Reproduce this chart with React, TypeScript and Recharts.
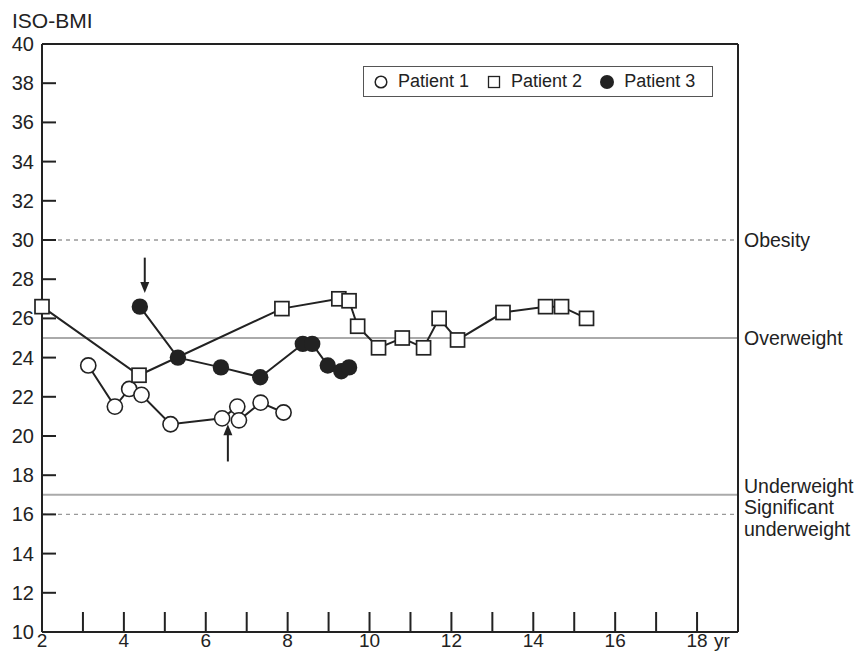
import React from 'react';
import {
  LineChart,
  Line,
  XAxis,
  YAxis,
  ReferenceLine,
  Legend
} from 'recharts';

// ages (yr) and ISO-BMI for each patient
const p1Age = [3.13, 3.78, 4.13, 4.43, 5.14, 6.4, 6.77, 6.81, 7.34, 7.9];
const p1Bmi = [23.6, 21.5, 22.4, 22.1, 20.6, 20.9, 21.5, 20.8, 21.7, 21.2];

const p2Age = [2.0, 4.37, 7.86, 9.25, 9.5, 9.71, 10.22, 10.8, 11.32, 11.7, 12.15, 13.26, 14.3, 14.69, 15.3];
const p2Bmi = [26.6, 23.1, 26.5, 27.0, 26.9, 25.6, 24.5, 25.0, 24.5, 26.0, 24.9, 26.3, 26.6, 26.6, 26.0];

const p3Age = [4.39, 5.32, 6.37, 7.33, 8.37, 8.6, 8.98, 9.31, 9.5];
const p3Bmi = [26.6, 24.0, 23.5, 23.0, 24.7, 24.7, 23.6, 23.3, 23.5];

const xTicks = [2, 3, 4, 5, 6, 7, 8, 9, 10, 11, 12, 13, 14, 15, 16, 17, 18];
const yTicks = [10, 12, 14, 16, 18, 20, 22, 24, 26, 28, 30, 32, 34, 36, 38, 40];

const cutoffValues = [30, 25, 17, 16];
const cutoffLabels = [['Obesity'], ['Overweight'], ['Underweight'], ['Significant', 'underweight']];

// arrows: [age, tail bmi, tip bmi]
const arrows = [
  [4.51, 29.1, 27.3],
  [6.54, 18.7, 20.6],
];

const toRows = (xs: number[], ys: number[]) => xs.map((x, i) => ({ age: x, bmi: ys[i] }));

const INK = '#222';
const FONT = '"Liberation Sans", Arial, sans-serif';

const OpenCircle = (props: any) => {
  const { cx, cy, index } = props;
  if (cx == null || cy == null) return null;
  return <circle key={index} cx={cx} cy={cy} r={7.6} fill="#fff" stroke={INK} strokeWidth={1.6} />;
};

const OpenSquare = (props: any) => {
  const { cx, cy, index } = props;
  if (cx == null || cy == null) return null;
  return <rect key={index} x={cx - 7} y={cy - 7} width={14} height={14} fill="#fff" stroke={INK} strokeWidth={1.7} />;
};

const FilledCircle = (props: any) => {
  const { cx, cy, index } = props;
  if (cx == null || cy == null) return null;
  return <circle key={index} cx={cx} cy={cy} r={8.2} fill={INK} />;
};

const YTick = (props: any) => {
  const { x, y, payload } = props;
  const ax = x + 8;
  return (
    <g>
      <line x1={ax} x2={ax + 14} y1={y} y2={y} stroke={INK} strokeWidth={2} />
      <text x={x} y={y} dy={7} textAnchor="end" fontSize={20} fontFamily={FONT} fill={INK}>
        {payload.value}
      </text>
    </g>
  );
};

const XTick = (props: any) => {
  const { x, y, payload } = props;
  const v = payload.value;
  return (
    <g>
      <line x1={x} x2={x} y1={y} y2={y - 20} stroke={INK} strokeWidth={2} />
      {v % 2 === 0 && (
        <text x={x} y={y + 15} textAnchor="middle" fontSize={19} fontFamily={FONT} fill={INK}>
          {v}
        </text>
      )}
      {v === 18 && (
        <text x={x + 17} y={y + 15} fontSize={19} fontFamily={FONT} fill={INK}>
          yr
        </text>
      )}
    </g>
  );
};

// upper cut-offs are centred on their line, lower ones sit on it
const CutoffLabel = (lines: string[], value: number) => (props: any) => {
  const { viewBox } = props;
  const x = viewBox.x + viewBox.width + 6;
  const y = viewBox.y;
  const first = value >= 20 ? 7 : value === 17 ? -2 : 0;
  return (
    <text x={x} y={y} fontSize={19.5} fontFamily={FONT} fill={INK}>
      {lines.map((l, i) => (
        <tspan key={l} x={x} dy={i === 0 ? first : 21.5}>
          {l}
        </tspan>
      ))}
    </text>
  );
};

const Arrow = (props: any) => {
  const { x1, y1, x2, y2 } = props;
  const dir = y2 > y1 ? 1 : -1;
  return (
    <g>
      <line x1={x1} y1={y1} x2={x2} y2={y2 - dir * 8} stroke={INK} strokeWidth={2} />
      <polygon
        points={`${x2 - 4.5},${y2 - dir * 11} ${x2 + 4.5},${y2 - dir * 11} ${x2},${y2}`}
        fill={INK}
      />
    </g>
  );
};

const markerFor = (name: string) => {
  if (name === 'Patient 1')
    return <circle cx={7} cy={7} r={5.8} fill="#fff" stroke={INK} strokeWidth={1.5} />;
  if (name === 'Patient 2')
    return <rect x={1.5} y={1.5} width={11} height={11} fill="#fff" stroke={INK} strokeWidth={1.3} />;
  return <circle cx={7} cy={7} r={7} fill={INK} />;
};

const LegendBox = (props: any) => {
  const { payload } = props;
  return (
    <div
      style={{
        display: 'flex',
        alignItems: 'center',
        border: '1px solid #555',
        height: 31,
        boxSizing: 'border-box',
        padding: '0 10px',
        fontFamily: FONT,
        fontSize: 18,
        color: INK,
        background: '#fff',
      }}
    >
      {(payload || []).map((p: any, i: number) => (
        <div key={p.value} style={{ display: 'flex', alignItems: 'center', marginLeft: i === 0 ? 0 : 18 }}>
          <svg width={14} height={14} style={{ marginRight: 10 }}>
            {markerFor(p.value)}
          </svg>
          <span>{p.value}</span>
        </div>
      ))}
    </div>
  );
};

export default function App() {
  return (
    <div style={{ position: 'absolute', left: 0, top: 0, width: 863, height: 652, background: '#fff' }}>
      <div
        style={{
          position: 'absolute',
          left: 12,
          top: 9,
          fontFamily: FONT,
          fontSize: 21,
          color: INK,
          lineHeight: '24px',
        }}
      >
        ISO-BMI
      </div>
      <LineChart
        width={863}
        height={652}
        margin={{ top: 44, right: 125, bottom: 0, left: 0 }}
        style={{ position: 'absolute', left: 0, top: 0 }}
      >
        <XAxis
          dataKey="age"
          type="number"
          domain={[2, 19]}
          ticks={xTicks}
          interval={0}
          height={20}
          tickSize={0}
          tickMargin={0}
          tickLine={false}
          tick={<XTick />}
          axisLine={{ stroke: INK, strokeWidth: 2 }}
        />
        <YAxis
          type="number"
          domain={[10, 40]}
          ticks={yTicks}
          interval={0}
          width={42}
          tickSize={0}
          tickMargin={8}
          tickLine={false}
          tick={<YTick />}
          axisLine={{ stroke: INK, strokeWidth: 2 }}
        />
        {cutoffValues.map((v, i) => (
          <ReferenceLine
            key={v}
            y={v}
            stroke={v === 30 || v === 16 ? '#999' : '#aaa'}
            strokeWidth={v === 30 || v === 16 ? 1.3 : 2}
            strokeDasharray={v === 30 || v === 16 ? '4 4' : undefined}
            label={CutoffLabel(cutoffLabels[i], v)}
          />
        ))}
        <ReferenceLine y={40} stroke={INK} strokeWidth={2} />
        <ReferenceLine x={19} stroke={INK} strokeWidth={2} />
        {arrows.map((a, i) => (
          <ReferenceLine
            key={i}
            segment={[
              { x: a[0], y: a[1] },
              { x: a[0], y: a[2] },
            ]}
            shape={Arrow}
          />
        ))}
        <Legend
          verticalAlign="middle"
          align="center"
          layout="horizontal"
          content={<LegendBox />}
          wrapperStyle={{ left: 363, top: 66, width: 350, height: 31 }}
        />
        <Line
          name="Patient 1"
          data={toRows(p1Age, p1Bmi)}
          dataKey="bmi"
          type="linear"
          stroke={INK}
          strokeWidth={2}
          dot={OpenCircle}
          activeDot={false}
          isAnimationActive={false}
        />
        <Line
          name="Patient 2"
          data={toRows(p2Age, p2Bmi)}
          dataKey="bmi"
          type="linear"
          stroke={INK}
          strokeWidth={2}
          dot={OpenSquare}
          activeDot={false}
          isAnimationActive={false}
        />
        <Line
          name="Patient 3"
          data={toRows(p3Age, p3Bmi)}
          dataKey="bmi"
          type="linear"
          stroke={INK}
          strokeWidth={2}
          dot={FilledCircle}
          activeDot={false}
          isAnimationActive={false}
        />
      </LineChart>
    </div>
  );
}
